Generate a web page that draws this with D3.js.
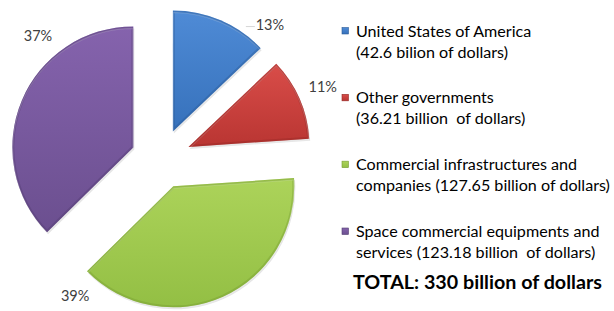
<!DOCTYPE html>
<html>
<head>
<meta charset="utf-8">
<script src="https://cdn.jsdelivr.net/npm/d3@7"></script>
<style>
  html, body { margin: 0; padding: 0; background: #fff; }
  svg { display: block; font-family: Lato, "Open Sans", sans-serif; }
</style>
</head>
<body>
<svg id="chart" width="614" height="311"></svg>
<script>
// data
const categories = [
  "United States of America",
  "Other governments",
  "Commercial infrastructures and",
  "Space commercial equipments and"
];
const secondLines = [
  "(42.6 bilion of dollars)",
  "(36.21 billion  of dollars)",
  "companies (127.65 billion of dollars)",
  "services (123.18 billion  of dollars)"
];
const values = [42.6, 36.21, 127.65, 123.18];
const percentLabels = ["13%", "11%", "39%", "37%"];
const totalLabel = "TOTAL: 330 billion of dollars";

// look
const colors = [
  { top: "#4f8bd6", bottom: "#3671bb", edge: "#2a5a96" },
  { top: "#d94d49", bottom: "#b93532", edge: "#942825" },
  { top: "#acd35a", bottom: "#93bf44", edge: "#769c33" },
  { top: "#8563ad", bottom: "#6b4f8f", edge: "#523d70" }
];
// Excel "best fit" label placement (angle in degrees from 12 o'clock, radius)
const labelPlace = [
  { a: 39, r: 173 }, { a: 66, r: 177 }, { a: 212, r: 162 }, { a: 315, r: 174 }
];

const svg = d3.select("#chart");
const cx = 161, cy = 159, radius = 121, explode = 30;

const pie = d3.pie().sort(null).value(d => d)(values);
const arc = d3.arc().innerRadius(0).outerRadius(radius);

const defs = svg.append("defs");
colors.forEach((c, i) => {
  const g = defs.append("linearGradient")
    .attr("id", "grad" + i).attr("x1", 0).attr("y1", 0).attr("x2", 0).attr("y2", 1);
  g.append("stop").attr("offset", "0%").attr("stop-color", c.top);
  g.append("stop").attr("offset", "100%").attr("stop-color", c.bottom);
});

const pieG = svg.append("g").attr("transform", `translate(${cx},${cy})`);

const slices = pieG.selectAll("g.slice")
  .data(pie)
  .join("g")
  .attr("class", "slice")
  .attr("transform", d => {
    const mid = (d.startAngle + d.endAngle) / 2;
    return `translate(${Math.sin(mid) * explode},${-Math.cos(mid) * explode})`;
  });

slices.each(function(d, i) {
  const s = d3.select(this);
  const path = arc(d);
  defs.append("clipPath").attr("id", "clip" + i).append("path").attr("d", path);
  // soft shadow
  s.append("path").attr("d", path)
    .attr("transform", "translate(1,2)")
    .attr("fill", "#000").attr("opacity", 0.1);
  s.append("path").attr("d", path).attr("fill", `url(#grad${i})`);
  // bevel: dark inner edge + light highlight
  s.append("path").attr("d", path)
    .attr("clip-path", `url(#clip${i})`)
    .attr("fill", "none").attr("stroke", colors[i].edge)
    .attr("stroke-width", 4).attr("stroke-opacity", 0.4);
  s.append("path").attr("d", path)
    .attr("clip-path", `url(#clip${i})`)
    .attr("transform", "translate(0,1.5)")
    .attr("fill", "none").attr("stroke", "#fff")
    .attr("stroke-width", 2).attr("stroke-opacity", 0.18);
});

// percent labels
const toRad = d3.scaleLinear().domain([0, 360]).range([0, 2 * Math.PI]);
pieG.selectAll("text.pct")
  .data(pie)
  .join("text")
  .attr("class", "pct")
  .attr("x", (d, i) => Math.sin(toRad(labelPlace[i].a)) * labelPlace[i].r)
  .attr("y", (d, i) => -Math.cos(toRad(labelPlace[i].a)) * labelPlace[i].r)
  .attr("dy", "0.35em")
  .attr("text-anchor", "middle")
  .attr("fill", "#404040")
  .style("font-size", "14.5px")
  .text((d, i) => percentLabels[i]);

// faint leader line for 13%
pieG.append("line")
  .attr("x1", Math.sin(toRad(39)) * 173 - 24).attr("y1", -Math.cos(toRad(39)) * 173 + 2)
  .attr("x2", Math.sin(toRad(39)) * 173 - 15).attr("y2", -Math.cos(toRad(39)) * 173 + 2)
  .attr("stroke", "#ccc").attr("stroke-width", 0.8);

// legend
const legendY = d3.scalePoint().domain(d3.range(categories.length)).range([36.5, 237]);
const lineGap = 21;
const textX = 356;
const legend = svg.append("g");

const item = legend.selectAll("g.item")
  .data(categories)
  .join("g")
  .attr("class", "item")
  .attr("transform", (d, i) => `translate(0,${legendY(i)})`);

item.append("rect")
  .attr("x", 342).attr("y", -9).attr("width", 6.5).attr("height", 6.5)
  .attr("fill", (d, i) => `url(#grad${i})`)
  .attr("stroke", (d, i) => colors[i].edge).attr("stroke-width", 0.6);

const t1 = item.append("text").attr("x", textX).attr("y", 0).attr("fill", "#000").text(d => d);
const t2 = item.append("text").attr("x", textX).attr("y", lineGap).attr("fill", "#000")
  .style("white-space", "pre").text((d, i) => secondLines[i]);

// fit the legend font so the widest line matches the picture
legend.selectAll("text").style("font-size", "15px");
const widest = t2.filter((d, i) => i === 2).node().getComputedTextLength();
const legendSize = 15 * 254 / widest;
legend.selectAll("text").style("font-size", legendSize + "px");

const total = svg.append("text")
  .attr("x", 353).attr("y", 289)
  .attr("fill", "#000")
  .style("font-weight", "bold")
  .style("font-size", "18px")
  .text(totalLabel);
const tw = total.node().getComputedTextLength();
total.style("font-size", (18 * 249 / tw) + "px");
</script>
</body>
</html>
